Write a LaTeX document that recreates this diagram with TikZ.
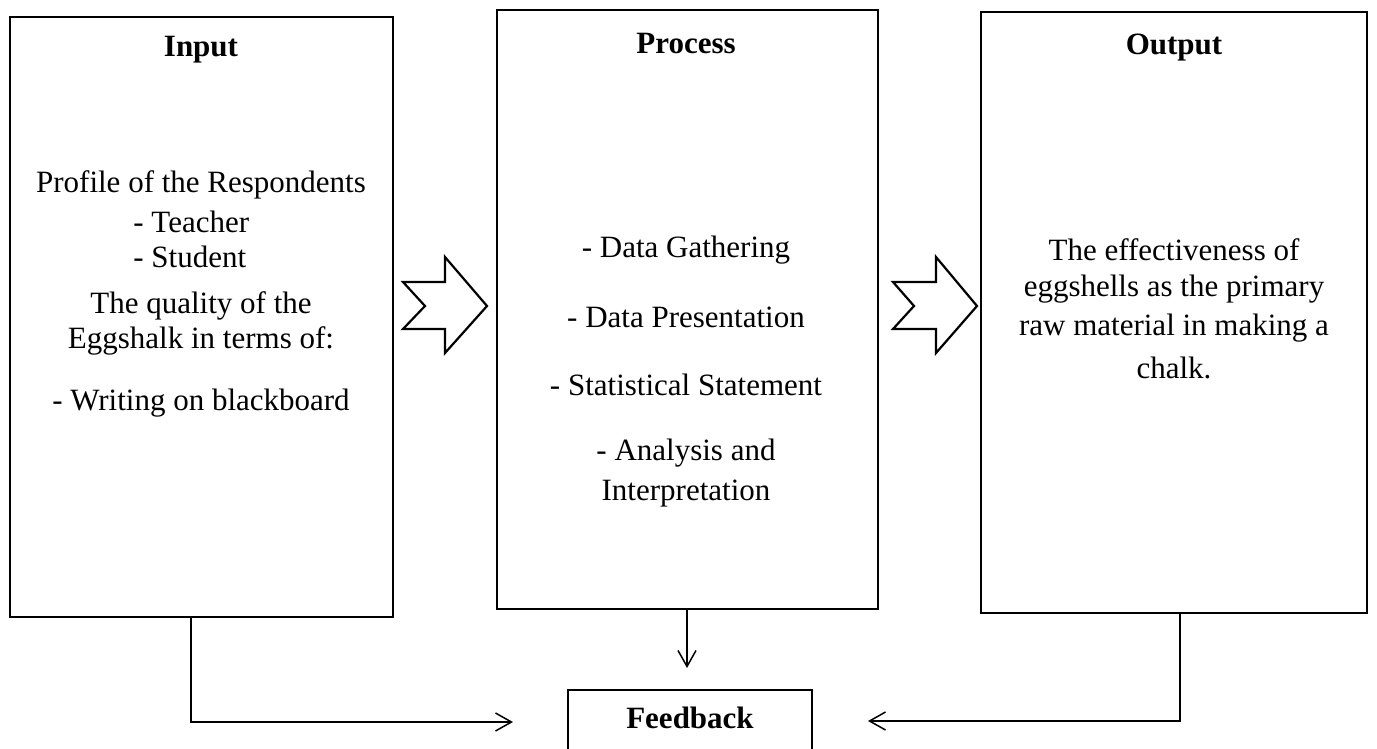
\documentclass[tikz,border=0pt]{standalone}
\usepackage{fontspec}
\setmainfont{Liberation Serif}
\usetikzlibrary{arrows.meta}
\tikzset{
  box/.style={draw, line width=1.3pt, rectangle, inner sep=0pt},
  txt/.style={inner sep=0pt, font=\fontsize{15.5}{18}\selectfont},
  ttl/.style={inner sep=0pt, font=\fontsize{15.5}{18}\selectfont\bfseries},
  conn/.style={draw, line width=0.75pt},
  openarr/.style={-{Straight Barb[length=8pt,width=9pt,line width=0.75pt]}},
  chev/.style={draw, line width=1.1pt, line join=miter}
}
\begin{document}
\begin{tikzpicture}[x=0.5pt,y=-0.5pt]
\useasboundingbox (0,0) rectangle (1377,749);
\clip (0,0) rectangle (1377,749);
% boxes
\node[box, minimum width=191.5pt, minimum height=300pt] (input) at (201.5,317) {};
\node[box, minimum width=190.5pt, minimum height=299.5pt] (process) at (687.5,309.5) {};
\node[box, minimum width=193pt, minimum height=300.5pt] (output) at (1174,312.5) {};
\node[box, minimum width=122pt, minimum height=40pt] (feedback) at (690,730) {};
% titles
\node[ttl] (tin) at (201,50) {Input};
\node[ttl] (tpr) at (686,44) {Process};
\node[ttl] (tout) at (1174,48) {Output};
\node[ttl] (tfb) at (690,718) {Feedback};
% input text
\node[txt] (i1) at (201,185) {Profile of the Respondents};
\node[txt, anchor=west] (i2) at (133,222) {- Teacher};
\node[txt, anchor=west] (i3) at (133,257) {- Student};
\node[txt] (i4) at (201,306) {The quality of the};
\node[txt] (i5) at (201,341) {Eggshalk in terms of:};
\node[txt] (i6) at (201,403) {- Writing on blackboard};
% process text
\node[txt] (p1) at (686,250) {- Data Gathering};
\node[txt] (p2) at (686,317) {- Data Presentation};
\node[txt] (p3) at (686,385) {- Statistical Statement};
\node[txt] (p4) at (686,453) {- Analysis and};
\node[txt] (p5) at (686,494) {Interpretation};
% output text
\node[txt] (o1) at (1174,250) {The effectiveness of};
\node[txt] (o2) at (1174,289) {eggshells as the primary};
\node[txt] (o3) at (1174,328) {raw material in making a};
\node[txt] (o4) at (1174,368) {chalk.};
% chevron arrows
\draw[chev] (403,282) -- (445,282) -- (445,257) -- (487,306) -- (445,353) -- (445,329) -- (403,329) -- (425,306) -- cycle;
\draw[chev] (893,282) -- (936,282) -- (936,257) -- (977,306) -- (936,353) -- (936,329) -- (893,329) -- (914,306) -- cycle;
% feedback connectors
\coordinate (lx) at (191,722);
\coordinate (lend) at (513,722);
\coordinate (pend) at (687,668);
\coordinate (rx) at (1180,721);
\coordinate (rend) at (868,721);
\draw[conn, openarr] (input.south -| lx) -- (lx) -- (lend);
\draw[conn, openarr] (process.south -| pend) -- (pend);
\draw[conn, openarr] (output.south -| rx) -- (rx) -- (rend);
\end{tikzpicture}
\end{document}
